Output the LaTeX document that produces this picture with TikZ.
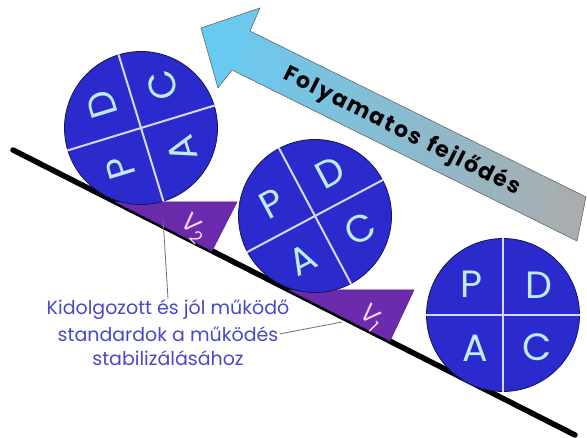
\documentclass[tikz,border=0pt]{standalone}
\usepackage{fontspec}
\setmainfont{Poppins}
\usetikzlibrary{calc}
\definecolor{ballblue}{RGB}{42,42,205}
\definecolor{balledge}{RGB}{20,20,90}
\definecolor{divcol}{RGB}{215,215,255}
\definecolor{lettercol}{RGB}{190,235,255}
\definecolor{wedgecol}{RGB}{108,42,172}
\definecolor{vcol}{RGB}{245,215,250}
\definecolor{txtblue}{RGB}{72,72,200}
\definecolor{ptrgray}{RGB}{110,110,110}
\definecolor{arrblue}{RGB}{100,204,245}
\definecolor{arrmid}{RGB}{135,195,225}
\definecolor{arrgray}{RGB}{172,172,172}
\begin{document}
\begin{tikzpicture}[x=1pt,y=-1pt,
  ball/.style={circle, draw=balledge, line width=0.8pt, fill=ballblue, minimum size=153pt, inner sep=0pt},
  divider/.style={draw=divcol, line width=2pt},
  letter/.style={text=lettercol, font=\fontsize{38}{40}\selectfont, inner sep=0pt},
  wedge/.style={fill=wedgecol, draw=wedgecol!80!black, line width=0.5pt},
  vlabel/.style={text=vcol, font=\fontsize{25}{26}\selectfont, inner sep=0pt},
  ground/.style={line width=5.5pt, line cap=round},
  note/.style={text=txtblue, font=\fontsize{19}{20}\selectfont, inner sep=1pt},
  pointer/.style={draw=ptrgray, line width=0.8pt}]
\useasboundingbox (0,0) rectangle (587,438);

% big arrow
\shade[left color=arrblue, middle color=arrmid, right color=arrgray, draw=black!60, line width=0.6pt]
  (201,28) -- (260,8) -- (250,31) -- (586,197) -- (577,241) -- (232,70) -- (218,88) -- cycle;
\node[rotate=-26.5, font=\fontsize{22}{24}\selectfont\bfseries\addfontfeatures{LetterSpace=8}] (arrtxt) at (402,131) {Folyamatos\hspace{0.4em}fejlődés};

% ground line
\coordinate (gs) at (13,150);
\coordinate (ge) at (575,435);
\draw[ground] (gs) -- (ge);

% wedges
\filldraw[wedge] (115.5,202) -- (237,202) -- (212,251) -- cycle;
\filldraw[wedge] (289,290) -- (414,290) -- (390,341) -- cycle;
\node[vlabel, rotate=-45] (v2) at (194,229) {V\textsubscript{2}};
\node[vlabel, rotate=-45] (v1) at (371,318) {V\textsubscript{1}};

% ball 3 (right)
\node[ball] (c3) at (503,315) {};
\draw[divider] (c3.north) -- (c3.south) (c3.west) -- (c3.east);
\begin{scope}[shift={(c3.center)}]
  \node[letter] (c3p) at (-32,-31) {P};
  \node[letter] (c3d) at (36,-30) {D};
  \node[letter] (c3a) at (-28,33) {A};
  \node[letter] (c3c) at (34,32) {C};
\end{scope}

% ball 2 (middle)
\node[ball, rotate=28] (c2) at (315,216) {};
\draw[divider] (c2.north) -- (c2.south) (c2.west) -- (c2.east);
\begin{scope}[shift={(c2.center)}, rotate=28]
  \node[letter, rotate=28] (c2p) at (-32,-31) {P};
  \node[letter, rotate=28] (c2d) at (34,-31) {D};
  \node[letter, rotate=28] (c2a) at (-32,33) {A};
  \node[letter, rotate=28] (c2c) at (34,33) {C};
\end{scope}

% ball 1 (top left)
\node[ball, rotate=107] (c1) at (141,128) {};
\draw[divider] (c1.north) -- (c1.south) (c1.west) -- (c1.east);
\begin{scope}[shift={(c1.center)}, rotate=107]
  \node[letter, rotate=107] (c1p) at (-32,-31) {P};
  \node[letter, rotate=107] (c1d) at (34,-31) {D};
  \node[letter, rotate=107] (c1a) at (-32,33) {A};
  \node[letter, rotate=107] (c1c) at (34,33) {C};
\end{scope}

% note text
\node[note] (n1) at (168,310) {Kidolgozott és jól működő};
\node[note] (n2) at (168,334) {standardok a működés};
\node[note] (n3) at (168,358) {stabilizálásához};
\coordinate (p2) at (163,218);
\coordinate (p1) at (342,322);
\draw[pointer] (n1.north) -- (p2);
\draw[pointer] (n2.east) -- (p1);
\end{tikzpicture}
\end{document}
